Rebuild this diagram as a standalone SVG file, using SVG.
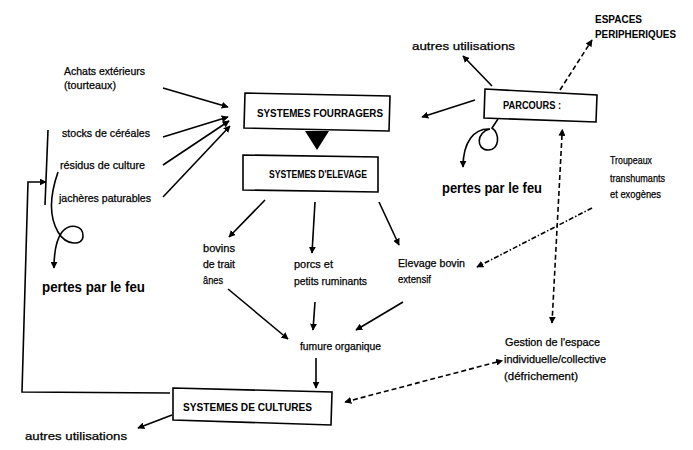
<svg xmlns="http://www.w3.org/2000/svg" width="693" height="450" viewBox="0 0 693 450">
<style>
text{font-family:"Liberation Sans",Arial,sans-serif;fill:#000}
.t{font-size:11px;stroke:#000;stroke-width:0.25}
.b{font-size:10px;font-weight:bold}
.f{font-size:15px;font-weight:bold}
.box{fill:#fff;stroke:#000;stroke-width:1.6}
.c{fill:none;stroke:#000;stroke-width:1.6}
.a{marker-end:url(#ah)}
.d{stroke-dasharray:5 3}
.dd{stroke-dasharray:5 2 1.5 2}
</style>
<defs>
<marker id="ah" viewBox="0 0 10 10" refX="9" refY="5" markerWidth="7" markerHeight="7" orient="auto" markerUnits="userSpaceOnUse"><path d="M0,0L10,5L0,10z"/></marker>
<marker id="as" viewBox="0 0 10 10" refX="1" refY="5" markerWidth="7" markerHeight="7" orient="auto-start-reverse" markerUnits="userSpaceOnUse"><path d="M0,0L10,5L0,10z"/></marker>
</defs>
<rect width="693" height="450" fill="#fff"/>

<g id="connectors">
<path class="c a" d="M163,88L228,107"/>
<path class="c a" d="M163,137L228,117"/>
<path class="c a" d="M163,165L229,121"/>
<path class="c a" d="M163,197L230,126"/>
<path d="M305,131L329,131L317,150z"/>
<path class="c a" d="M475,100L422,117"/>
<path class="c a" d="M492,86L463,56"/>
<path class="c a d" d="M560,90L592,40"/>
<path class="c a" d="M498,119L492,128C500,133 500,150 488,150C476,150 476,132 490,129C474,128 463,142 463,167"/>
<path class="c d" d="M562,135L552,323" marker-start="url(#as)" marker-end="url(#ah)"/>
<path class="c a dd" d="M592,208L477,267"/>
<path class="c d" d="M497,362L345,402" marker-start="url(#as)" marker-end="url(#ah)"/>
<path class="c a" d="M265,200L229,237"/>
<path class="c a" d="M315,202L312,253"/>
<path class="c a" d="M379,202L399,245"/>
<path class="c a" d="M228,289L288,339"/>
<path class="c a" d="M315,302L313,330"/>
<path class="c a" d="M403,302L356,330"/>
<path class="c a" d="M316,358L316,388"/>
<path class="c a" d="M172,415L138,428"/>
<path class="c" d="M48,130L45,205"/>
<path class="c a" d="M170,393L22,392L28,182L46,182"/>
<path class="c a" d="M58,172C50,195 48,215 58,232C66,246 83,246 83,236C83,225 70,223 62,232C56,240 54,255 54,268"/>
</g>

<g id="fourragers">
<polygon class="box" points="245,93 390,96 389,131 244,128"/>
<text class="b" x="257" y="117" textLength="126" lengthAdjust="spacingAndGlyphs">SYSTEMES FOURRAGERS</text>
</g>
<g id="elevage">
<polygon class="box" points="243,155 378,157 378,192 243,190"/>
<text class="b" x="269" y="178" textLength="98" lengthAdjust="spacingAndGlyphs">SYSTEMES D'ELEVAGE</text>
</g>
<g id="parcours">
<polygon class="box" points="485,89 597,95 596,122 484,118"/>
<text class="b" x="503" y="109" textLength="58" lengthAdjust="spacingAndGlyphs">PARCOURS :</text>
</g>
<g id="cultures">
<polygon class="box" points="173,388 332,392 331,425 173,420"/>
<text class="b" x="183" y="411" textLength="129" lengthAdjust="spacingAndGlyphs">SYSTEMES DE CULTURES</text>
</g>

<g id="achats"><text class="t" x="64" y="75" textLength="81" lengthAdjust="spacingAndGlyphs">Achats extérieurs</text><text class="t" x="64" y="89" textLength="52" lengthAdjust="spacingAndGlyphs">(tourteaux)</text></g>
<g id="stocks"><text class="t" x="62" y="137" textLength="88" lengthAdjust="spacingAndGlyphs">stocks de céréales</text></g>
<g id="residus"><text class="t" x="60" y="169" textLength="85" lengthAdjust="spacingAndGlyphs">résidus de culture</text></g>
<g id="jacheres"><text class="t" x="59" y="202" textLength="92" lengthAdjust="spacingAndGlyphs">jachères paturables</text></g>
<g id="pertes1"><text class="f" x="42" y="292" textLength="103" lengthAdjust="spacingAndGlyphs">pertes par le feu</text></g>
<g id="autres1"><text class="t" x="412" y="50" font-size="12" textLength="103" lengthAdjust="spacingAndGlyphs">autres utilisations</text></g>
<g id="espaces"><text class="b" x="595" y="23" textLength="47" lengthAdjust="spacingAndGlyphs">ESPACES</text><text class="b" x="595" y="38" textLength="81" lengthAdjust="spacingAndGlyphs">PERIPHERIQUES</text></g>
<g id="pertes2"><text class="f" x="442" y="193" textLength="100" lengthAdjust="spacingAndGlyphs">pertes par le feu</text></g>
<g id="troupeaux"><text class="t" x="610" y="164" textLength="42" lengthAdjust="spacingAndGlyphs">Troupeaux</text><text class="t" x="610" y="182" textLength="55" lengthAdjust="spacingAndGlyphs">transhumants</text><text class="t" x="610" y="198" textLength="51" lengthAdjust="spacingAndGlyphs">et exogènes</text></g>
<g id="bovins"><text class="t" x="203" y="252" textLength="32" lengthAdjust="spacingAndGlyphs">bovins</text><text class="t" x="203" y="268" textLength="32" lengthAdjust="spacingAndGlyphs">de trait</text><text class="t" x="203" y="284" textLength="20" lengthAdjust="spacingAndGlyphs">ânes</text></g>
<g id="porcs"><text class="t" x="294" y="268" textLength="39" lengthAdjust="spacingAndGlyphs">porcs et</text><text class="t" x="294" y="285" textLength="73" lengthAdjust="spacingAndGlyphs">petits ruminants</text></g>
<g id="bovin-extensif"><text class="t" x="398" y="267" textLength="67" lengthAdjust="spacingAndGlyphs">Elevage bovin</text><text class="t" x="398" y="283" textLength="33" lengthAdjust="spacingAndGlyphs">extensif</text></g>
<g id="fumure"><text class="t" x="300" y="350" textLength="81" lengthAdjust="spacingAndGlyphs">fumure organique</text></g>
<g id="gestion"><text class="t" x="505" y="346" textLength="95" lengthAdjust="spacingAndGlyphs">Gestion de l'espace</text><text class="t" x="504" y="363" textLength="102" lengthAdjust="spacingAndGlyphs">individuelle/collective</text><text class="t" x="504" y="380" textLength="74" lengthAdjust="spacingAndGlyphs">(défrichement)</text></g>
<g id="autres2"><text class="t" x="25" y="440" font-size="12" textLength="102" lengthAdjust="spacingAndGlyphs">autres utilisations</text></g>
</svg>
